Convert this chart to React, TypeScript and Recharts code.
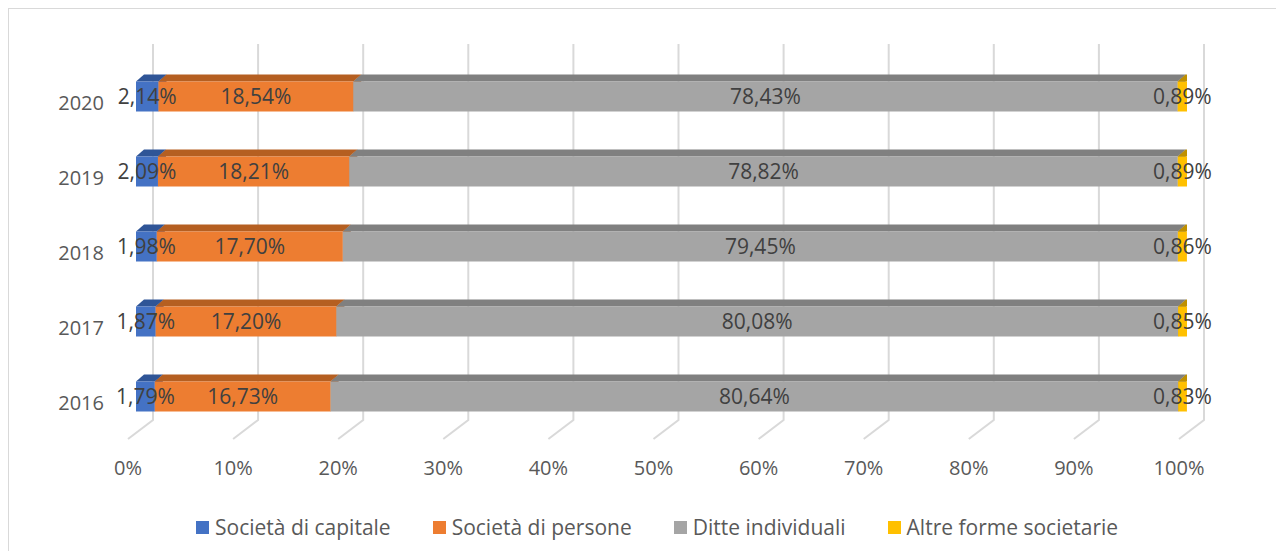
import { BarChart, Bar, XAxis, YAxis, CartesianGrid, Legend, LabelList } from 'recharts';

// anni dall'alto verso il basso, come nel grafico
const years = ['2020', '2019', '2018', '2017', '2016'];
const capitale = [2.14, 2.09, 1.98, 1.87, 1.79];
const persone = [18.54, 18.21, 17.7, 17.2, 16.73];
const individuali = [78.43, 78.82, 79.45, 80.08, 80.64];
const altre = [0.89, 0.89, 0.86, 0.85, 0.83];
const xTicks = [0, 10, 20, 30, 40, 50, 60, 70, 80, 90, 100];

const series = [
  { key: 'capitale', name: 'Società di capitale', front: '#4472C4', top: '#2F5597', side: '#2A4D8C' },
  { key: 'persone', name: 'Società di persone', front: '#ED7D31', top: '#B55F21', side: '#A3541B' },
  { key: 'individuali', name: 'Ditte individuali', front: '#A5A5A5', top: '#808080', side: '#737373' },
  { key: 'altre', name: 'Altre forme societarie', front: '#FFC000', top: '#BF9000', side: '#A07A00' },
];

const data = years.map((year, i) => ({
  year,
  capitale: capitale[i],
  persone: persone[i],
  individuali: individuali[i],
  altre: altre[i],
}));

const FONT = '"Open Sans", "Noto Sans", sans-serif';
const W = 1275;
const H = 542;

// finta prospettiva 3D
const DX = 8;
const DY = 7;
const GRID_TOP = 35;
const GRID_BACK_BOTTOM = 411;
const GRID_FRONT_BOTTOM = 430;
const BACK_DX = 17;
const FLOOR_DX = -8;

const fmt = (v: number) => `${v.toFixed(2).replace('.', ',')}%`;

function make3DShape(front: string, top: string, side: string) {
  return (props: any) => {
    const { x, y, width, height } = props;
    if (width == null || height == null) return null;
    return (
      <g>
        <polygon
          points={`${x + width},${y} ${x + width + DX},${y - DY} ${x + width + DX},${y + height - DY} ${x + width},${y + height}`}
          fill={side}
        />
        <polygon
          points={`${x},${y} ${x + width},${y} ${x + width + DX},${y - DY} ${x + DX},${y - DY}`}
          fill={top}
        />
        <rect x={x} y={y} width={width} height={height} fill={front} />
      </g>
    );
  };
}

function gridLine(props: any) {
  const { x1, index } = props;
  const bx = x1 + BACK_DX;
  const fx = x1 + FLOOR_DX;
  return (
    <polyline
      key={`grid-${index}`}
      points={`${bx},${GRID_TOP} ${bx},${GRID_BACK_BOTTOM} ${fx},${GRID_FRONT_BOTTOM}`}
      fill="none"
      stroke="#D9D9D9"
      strokeWidth={2}
    />
  );
}

function XTick({ x, payload }: any) {
  return (
    <text x={x + FLOOR_DX} y={466} textAnchor="middle" fontSize={20} fontFamily={FONT} fill="#595959">
      {`${payload.value}%`}
    </text>
  );
}

function YTick({ y, payload }: any) {
  return (
    <text x={95} y={y + 14} textAnchor="end" fontSize={20} fontFamily={FONT} fill="#595959">
      {payload.value}
    </text>
  );
}

function ValueLabel({ x, y, width, height, value }: any) {
  if (value == null) return null;
  return (
    <text
      x={x + width / 2}
      y={y + height / 2 + 7.5}
      textAnchor="middle"
      fontSize={21}
      fontFamily={FONT}
      fill="#404040"
    >
      {fmt(value)}
    </text>
  );
}

function LegendContent() {
  return (
    <div style={{ display: 'flex', alignItems: 'center', fontFamily: FONT, fontSize: 21, color: '#595959', whiteSpace: 'nowrap' }}>
      {series.map((s) => (
        <div key={s.key} style={{ display: 'flex', alignItems: 'center', marginRight: 42, lineHeight: '22px' }}>
          <span style={{ display: 'inline-block', width: 13, height: 13, background: s.front, marginRight: 6 }} />
          <span>{s.name}</span>
        </div>
      ))}
    </div>
  );
}

export default function App() {
  return (
    <div
      style={{
        width: W,
        height: H,
        borderTop: '1px solid #D9D9D9',
        borderLeft: '1px solid #D9D9D9',
        overflow: 'hidden',
        background: '#fff',
      }}
    >
      <BarChart
        width={W}
        height={H}
        data={data}
        layout="vertical"
        margin={{ top: 49.5, right: 97, bottom: 87.5, left: 67 }}
      >
        <CartesianGrid horizontal={false} vertical={gridLine} />
        <XAxis
          type="number"
          domain={[0, 100]}
          ticks={xTicks}
          interval={0}
          allowDataOverflow
          height={30}
          axisLine={false}
          tickLine={false}
          tick={<XTick />}
        />
        <YAxis
          type="category"
          dataKey="year"
          width={60}
          axisLine={false}
          tickLine={false}
          tick={<YTick />}
        />
        <Legend
          layout="horizontal"
          verticalAlign="middle"
          align="center"
          wrapperStyle={{ top: 507, left: 187, width: 'auto' }}
          content={<LegendContent />}
        />
        {series.map((s) => (
          <Bar
            key={s.key}
            dataKey={s.key}
            name={s.name}
            stackId="a"
            barSize={30}
            fill={s.front}
            shape={make3DShape(s.front, s.top, s.side)}
            isAnimationActive={false}
          >
            <LabelList dataKey={s.key} content={<ValueLabel />} />
          </Bar>
        ))}
      </BarChart>
    </div>
  );
}
